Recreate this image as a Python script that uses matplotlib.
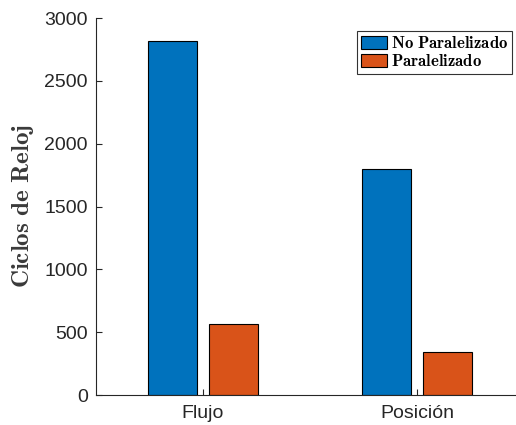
import matplotlib
matplotlib.use("Agg")
import matplotlib.pyplot as plt
import numpy as np

categories = ["Flujo", "Posición"]
series_names = ["No Paralelizado", "Paralelizado"]
no_paralelizado = [2820, 1795]
paralelizado = [565, 340]
y_ticks = [0, 500, 1000, 1500, 2000, 2500, 3000]

plt.rcParams["mathtext.fontset"] = "cm"

fig = plt.figure(figsize=(5.16, 4.25), dpi=100)
W, H = 516, 425
ax = fig.add_axes([96 / W, 1 - 395 / H, (516 - 96) / W, (395 - 18) / H])

x = np.arange(1, len(categories) + 1)
bw = 0.229
off = 0.1425
colors = ["#0072BD", "#D95319"]


def tex_bold(s):
    return r"$\mathbf{" + s.replace(" ", r"\ ") + "}$"


ax.bar(x - off, no_paralelizado, bw, color=colors[0], edgecolor="black", linewidth=0.8,
       label=tex_bold(series_names[0]))
ax.bar(x + off, paralelizado, bw, color=colors[1], edgecolor="black", linewidth=0.8,
       label=tex_bold(series_names[1]))

ax.set_xlim(0.5, 0.5 + (516 - 96) / 214)
ax.set_ylim(0, 3000)
ax.set_yticks(y_ticks)
ax.set_xticks(x)
ax.set_xticklabels(categories)

gray = (0.15, 0.15, 0.15)
for s in ["top", "right"]:
    ax.spines[s].set_visible(False)
for s in ["left", "bottom"]:
    ax.spines[s].set_color(gray)
    ax.spines[s].set_linewidth(0.8)
ax.tick_params(direction="in", length=4, width=0.8, colors=gray, labelsize=14,
               labelcolor=gray)
ax.tick_params(axis="x", pad=7)
ax.tick_params(axis="y", pad=6)
for lab in ax.get_xticklabels() + ax.get_yticklabels():
    lab.set_family("Liberation Sans")

ax.set_ylabel(tex_bold("Ciclos de Reloj"), fontsize=18, color="#3a3a3a", labelpad=6)

leg = ax.legend(loc="upper right", bbox_to_anchor=(512 / W, 1 - 31 / H),
                bbox_transform=fig.transFigure, fontsize=12, frameon=True,
                fancybox=False, edgecolor="black", borderpad=0.2,
                handlelength=1.6, handleheight=0.75, handletextpad=0.25,
                labelspacing=0.0, borderaxespad=0)
leg.get_frame().set_linewidth(0.8)

fig.savefig("out.png", dpi=100)
